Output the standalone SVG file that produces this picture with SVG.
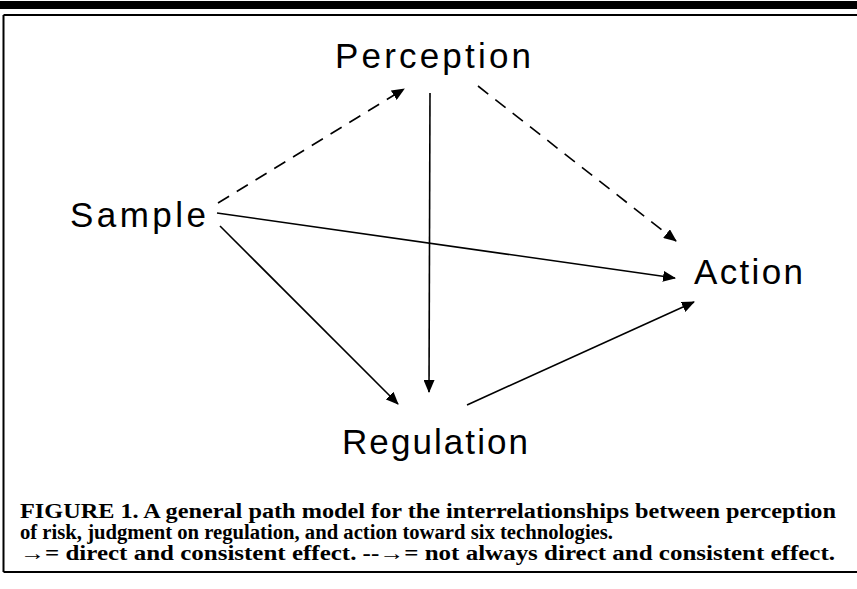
<svg xmlns="http://www.w3.org/2000/svg" width="857" height="589" viewBox="0 0 857 589">
  <style>
    .node { font-family: "Liberation Sans", Arial, sans-serif; font-size: 35px; fill: #000; }
    .cap { font-family: "Liberation Serif", "Times New Roman", serif; font-size: 20px; font-weight: bold; fill: #000; }
    .solid { stroke: #000; stroke-width: 1.6; fill: none; marker-end: url(#head); }
    .dashed { stroke: #000; stroke-width: 1.6; fill: none; stroke-dasharray: 13 9; marker-end: url(#head); }
    .frame { stroke: #000; fill: none; }
  </style>
  <defs>
    <marker id="head" viewBox="0 0 13 11" refX="12" refY="5.5" markerWidth="13" markerHeight="11" markerUnits="userSpaceOnUse" orient="auto">
      <path d="M0,0 L13,5.5 L0,11 Z" fill="#000"/>
    </marker>
  </defs>

  <rect width="857" height="589" fill="#fff"/>
  <!-- page rule and figure frame -->
  <rect x="0" y="1" width="857" height="8" fill="#000"/>
  <path class="frame" d="M3.5,15 H857 M3.5,15 V572 M3.5,572 H857" stroke-width="2"/>

  <g id="perception"><text class="node" x="335" y="68" textLength="196" lengthAdjust="spacing">Perception</text></g>
  <g id="sample"><text class="node" x="70" y="227" textLength="136" lengthAdjust="spacing">Sample</text></g>
  <g id="action"><text class="node" x="694" y="284" textLength="109" lengthAdjust="spacing">Action</text></g>
  <g id="regulation"><text class="node" x="342" y="454" textLength="186" lengthAdjust="spacing">Regulation</text></g>

  <g id="connectors">
    <line class="dashed" x1="218" y1="203" x2="404" y2="89"/>
    <line class="dashed" x1="478" y1="86" x2="676" y2="241"/>
    <line class="solid" x1="430" y1="93" x2="429" y2="392"/>
    <line class="solid" x1="217" y1="213" x2="675" y2="278"/>
    <line class="solid" x1="220" y1="226" x2="398" y2="404"/>
    <line class="solid" x1="467" y1="405" x2="694" y2="302"/>
  </g>

  <g id="caption">
    <text class="cap" x="20" y="518" textLength="816" lengthAdjust="spacingAndGlyphs">FIGURE 1. A general path model for the interrelationships between perception</text>
    <text class="cap" x="20" y="539" textLength="593" lengthAdjust="spacingAndGlyphs">of risk, judgment on regulation, and action toward six technologies.</text>
    <text class="cap" x="20" y="560" textLength="815" lengthAdjust="spacingAndGlyphs">→= direct and consistent effect. --→= not always direct and consistent effect.</text>
  </g>
</svg>
